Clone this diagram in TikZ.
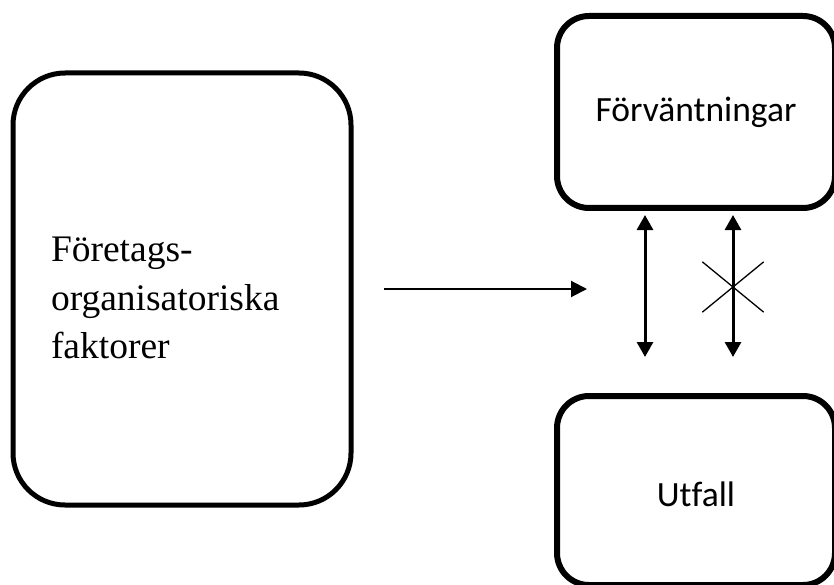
\documentclass[tikz,border=0pt]{standalone}
\usepackage{fontspec}
\setmainfont{Liberation Serif}
\newfontfamily\calibrilik[Ligatures=NoCommon]{Carlito}
\usetikzlibrary{positioning,arrows.meta,shapes.misc}

\begin{document}
\begin{tikzpicture}[x=1pt,y=-1pt,
  ruta/.style={draw,line width=6pt,rounded corners=32pt,minimum width=278pt,font=\calibrilik\fontsize{35.5}{42}\selectfont,inner sep=0pt},
  pil/.style={-{Triangle[length=16pt,width=16pt]},line width=2pt},
  dubbelpil/.style={{Triangle[length=15pt,width=16pt]}-{Triangle[length=15pt,width=16pt]},line width=3pt},
  kryss/.style={cross out,draw,line width=1.3pt,minimum width=60pt,minimum height=49pt,inner sep=0pt}
]
\useasboundingbox (0,0) rectangle (834,585);
\clip (0,0) rectangle (834,585);

\node[draw,line width=5pt,rounded corners=52pt,minimum width=338pt,minimum height=432pt] (foretag) at (182,289) {};
\node[text width=262pt,align=left,inner sep=0pt,font=\fontsize{37.5}{48.5}\selectfont] (foretagtext) at ([yshift=-9pt]foretag.center) {Företags-\\organisatoriska\\faktorer};
\node[ruta,minimum height=192pt] (forv) at (696,112) {Förväntningar};
\node[ruta,minimum height=189pt,text height=32pt] (utfall) at (696,490.5) {Utfall};

\coordinate (pilstart) at (384,289);
\coordinate (pilslut) at (587,289);
\draw[pil] (pilstart) -- (pilslut);

\coordinate (v1upp) at (645,215);
\coordinate (v1ned) at (645,357);
\coordinate (v2upp) at (733,215);
\coordinate (v2ned) at (733,357);
\draw[dubbelpil] (v1upp) -- (v1ned);
\draw[dubbelpil] (v2upp) -- (v2ned);

\node[kryss] (nej) at (733,287) {};
\end{tikzpicture}
\end{document}
